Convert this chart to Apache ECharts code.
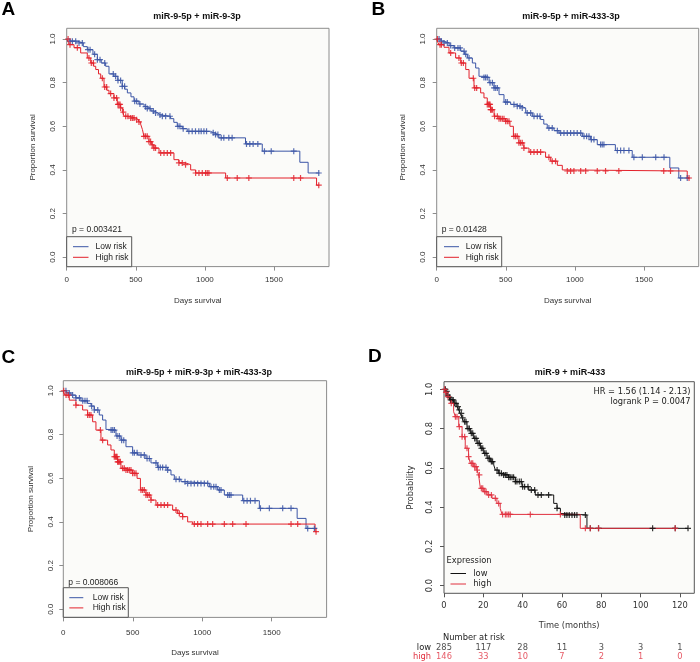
<!DOCTYPE html>
<html><head><meta charset="utf-8">
<script src="https://cdn.jsdelivr.net/npm/echarts@6/dist/echarts.min.js"></script>
<style>html,body{margin:0;padding:0;background:#fff}#c{width:700px;height:662px}</style>
</head><body><div id="c"></div>
<script>
// ---------------- DATA ----------------
const titles = ['miR-9-5p + miR-9-3p', 'miR-9-5p + miR-433-3p', 'miR-9-5p + miR-9-3p + miR-433-3p', 'miR-9 + miR-433'];
const panelLetters = ['A', 'B', 'C', 'D'];
const pValues = ['p = 0.003421', 'p = 0.01428', 'p = 0.008066'];
const riskGroups = ['Low risk', 'High risk'];
const exprGroups = ['low', 'high'];
const hrText = 'HR = 1.56 (1.14 - 2.13)';
const logrankText = 'logrank P = 0.0047';
const daysTicks = [0, 500, 1000, 1500];
const monthTicks = [0, 20, 40, 60, 80, 100, 120];
const probTicks = [0, 0.2, 0.4, 0.6, 0.8, 1.0];

// Panel A (days, survival)
const aLow = [[0,1],[24,0.99],[77,0.982],[120,0.965],[149,0.951],[190,0.93],[222,0.905],[250,0.89],[282,0.875],[306,0.84],[342,0.829],[370,0.81],[402,0.783],[420,0.77],[439,0.753],[465,0.735],[487,0.715],[523,0.702],[560,0.69],[583,0.681],[610,0.67],[631,0.661],[660,0.652],[680,0.646],[752,0.635],[775,0.618],[800,0.6],[836,0.589],[872,0.577],[1040,0.57],[1065,0.562],[1101,0.547],[1294,0.519],[1415,0.486],[1687,0.435],[1747,0.386],[1828,0.386]];
const aHigh = [[0,1],[12,0.985],[17,0.974],[53,0.96],[101,0.936],[149,0.913],[174,0.89],[195,0.875],[210,0.86],[230,0.84],[246,0.82],[270,0.78],[290,0.765],[306,0.75],[342,0.73],[366,0.7],[390,0.684],[405,0.665],[415,0.646],[451,0.638],[499,0.63],[520,0.62],[535,0.61],[548,0.585],[559,0.554],[595,0.53],[615,0.515],[631,0.5],[668,0.478],[776,0.447],[812,0.432],[860,0.424],[897,0.4],[933,0.386],[1150,0.363],[1808,0.33],[1828,0.33]];
const aLowCens = [24,41,65,89,113,154,169,202,222,241,275,337,354,371,390,402,419,492,506,530,571,583,603,627,643,675,692,716,747,805,819,843,884,908,932,956,973,993,1012,1060,1077,1094,1118,1137,1173,1197,1301,1325,1349,1383,1431,1480,1643,1824];
const aHighCens = [10,24,77,161,178,193,258,275,289,318,342,361,371,378,386,390,410,427,443,463,475,487,506,523,559,571,583,595,607,619,631,643,680,704,728,752,812,836,860,933,957,981,1005,1017,1029,1162,1234,1318,1643,1692,1824];

// Panel B
const bLow = [[0,1],[30,0.99],[53,0.982],[90,0.97],[125,0.959],[174,0.944],[200,0.93],[222,0.913],[258,0.89],[282,0.867],[306,0.829],[342,0.824],[379,0.8],[415,0.776],[451,0.745],[487,0.711],[535,0.7],[570,0.692],[608,0.684],[644,0.661],[692,0.646],[752,0.631],[775,0.61],[800,0.592],[849,0.58],[885,0.569],[1054,0.554],[1114,0.539],[1162,0.516],[1293,0.489],[1415,0.458],[1687,0.409],[1752,0.363],[1828,0.363]];
const bHigh = [[0,1],[8,0.985],[17,0.974],[53,0.962],[89,0.936],[137,0.913],[174,0.89],[210,0.86],[234,0.82],[270,0.776],[318,0.753],[342,0.73],[366,0.7],[390,0.676],[415,0.646],[451,0.635],[499,0.623],[530,0.6],[555,0.554],[595,0.524],[631,0.5],[668,0.482],[788,0.458],[825,0.44],[873,0.421],[909,0.4],[945,0.395],[1813,0.363],[1828,0.363]];
const bLowCens = [17,34,53,77,101,130,154,169,198,210,234,342,354,366,386,403,415,427,439,499,511,559,583,603,619,655,680,704,728,747,812,836,873,897,921,945,969,993,1017,1042,1066,1085,1102,1119,1138,1186,1198,1210,1307,1331,1355,1391,1427,1488,1585,1645,1765,1813];
const bHighCens = [5,24,34,101,161,178,193,265,275,289,366,374,381,386,390,395,403,419,439,451,463,475,487,499,511,523,559,571,583,595,607,619,631,680,704,728,752,812,836,860,945,969,993,1042,1078,1162,1222,1318,1643,1692,1826];

// Panel C
const cLow = [[0,1],[25,0.99],[55,0.98],[90,0.967],[127,0.954],[175,0.942],[200,0.93],[223,0.912],[259,0.889],[283,0.866],[307,0.823],[343,0.82],[379,0.793],[415,0.774],[451,0.744],[499,0.716],[535,0.706],[595,0.69],[631,0.67],[679,0.649],[751,0.637],[775,0.615],[799,0.595],[847,0.584],[883,0.576],[1051,0.561],[1111,0.546],[1159,0.523],[1291,0.497],[1411,0.462],[1683,0.416],[1747,0.37],[1826,0.37]];
const cHigh = [[0,1],[5,0.99],[12,0.98],[43,0.957],[91,0.934],[139,0.912],[175,0.889],[211,0.858],[235,0.82],[271,0.774],[319,0.752],[343,0.729],[367,0.698],[391,0.675],[415,0.645],[451,0.637],[499,0.622],[531,0.599],[555,0.546],[595,0.523],[631,0.5],[667,0.477],[787,0.454],[823,0.439],[859,0.424],[895,0.4],[931,0.39],[1812,0.355],[1826,0.355]];
const cLowCens = [19,43,67,91,116,140,156,171,204,223,248,344,356,368,387,403,420,435,500,512,531,559,583,603,619,667,684,698,715,739,751,811,835,876,895,919,943,967,991,1015,1039,1063,1083,1099,1123,1135,1183,1195,1207,1299,1323,1347,1380,1419,1483,1579,1639,1759,1807];
const cHighCens = [3,20,36,91,175,187,199,267,283,367,375,382,387,391,396,403,411,427,439,451,463,475,487,499,511,523,559,571,583,595,607,619,631,679,703,727,751,811,835,859,943,967,991,1039,1075,1159,1219,1315,1639,1687,1819];

// Panel D (months, probability)
const dLow = [[0,1],[0.8,0.99],[1.5,0.971],[2.4,0.96],[3.2,0.946],[4.9,0.929],[6.6,0.912],[7.5,0.895],[8.3,0.878],[9.2,0.855],[10,0.835],[11.7,0.8],[13.4,0.776],[15.1,0.75],[16.8,0.725],[18.5,0.7],[20.2,0.674],[21.9,0.649],[23.6,0.632],[25.3,0.615],[26.1,0.589],[27.8,0.572],[29.5,0.564],[32.9,0.552],[36.3,0.53],[39.7,0.504],[43.1,0.487],[46.4,0.462],[55.8,0.419],[57.5,0.394],[59.2,0.368],[60,0.36],[72.7,0.292],[124.1,0.292]];
const dHigh = [[0,1],[0.5,0.985],[1.5,0.963],[3.2,0.929],[4.9,0.886],[5.8,0.861],[7.5,0.81],[9.2,0.759],[10.8,0.7],[12.5,0.657],[13.4,0.623],[15.1,0.606],[16.8,0.589],[17.6,0.564],[18.5,0.496],[20.2,0.479],[21.9,0.462],[24.4,0.445],[26.9,0.419],[28.6,0.394],[29.5,0.363],[69.3,0.292],[117.6,0.292]];
const dLowCens = [0.7,1.4,2.0,2.7,3.4,4.1,4.7,5.4,6.1,7.1,7.8,8.8,9.5,10.5,11.2,12.2,12.9,13.9,14.6,15.6,16.3,17.3,18.0,19.0,19.7,20.7,21.4,22.4,23.1,24.1,24.7,27.0,28.1,29.2,30.3,31.2,32.0,32.9,33.7,34.6,35.4,36.3,37.1,38.3,39.3,40.0,41.0,42.7,44.4,46.1,47.8,49.5,53.2,57.5,61.4,62.5,63.7,65.1,66.4,67.6,71.9,74.4,78.6,106.1,117.6,124.1];
const dHighCens = [0.3,1.0,2.0,3.7,5.8,6.6,7.8,9.2,10.5,11.7,12.5,13.9,14.6,15.6,16.3,16.8,18.0,19.0,19.7,20.7,21.4,22.7,24.1,26.1,27.8,29.8,31.2,32.0,32.9,33.7,43.9,59.2,71.9,74.4,78.6,117.6];

// Number at risk (panel D)
const riskMonths = [0, 20, 40, 60, 80, 100, 120];
const riskLow = [285, 117, 28, 11, 3, 3, 1];
const riskHigh = [146, 33, 10, 7, 2, 1, 0];

// ---------------- STYLE / LAYOUT ----------------
const BLUE = '#3b55a6', RED = '#e3212b', BLACK = '#111', DRED = '#e0303f';
const PLOTBG = '#fbfbf9';
const FA = '"Liberation Sans", Arial, sans-serif';
const FD = '"DejaVu Sans", sans-serif';
const CROSS = 'path://M4,0H6V4H10V6H6V10H4V6H0V4H4Z';

const panels = [
  {grid:{left:66.7, top:28.3, width:262.3, height:238.3}, xmax:1898, ymin:-0.043, ymax:1.049, xticks:daysTicks, xname:'Days survival', yname:'Proportion survival', font:FA, fs:8, border:'#8c8c8c', ylm:10, yng:30, xlm:9, xng:30,
   curves:[aLow,aHigh], cens:[aLowCens,aHighCens], colors:[BLUE,RED]},
  {grid:{left:436.7, top:28.3, width:262, height:238.3}, xmax:1896, ymin:-0.043, ymax:1.049, xticks:daysTicks, xname:'Days survival', yname:'Proportion survival', font:FA, fs:8, border:'#8c8c8c', ylm:10, yng:30, xlm:9, xng:30,
   curves:[bLow,bHigh], cens:[bLowCens,bHighCens], colors:[BLUE,RED]},
  {grid:{left:63.3, top:380.7, width:263.3, height:236.7}, xmax:1895, ymin:-0.037, ymax:1.046, xticks:daysTicks, xname:'Days survival', yname:'Proportion survival', font:FA, fs:8, border:'#8c8c8c', ylm:9, yng:29, xlm:11, xng:31,
   curves:[cLow,cHigh], cens:[cLowCens,cHighCens], colors:[BLUE,RED]},
  {grid:{left:444, top:381.7, width:250.3, height:211.6}, xmax:127.3, ymin:-0.039, ymax:1.039, xticks:monthTicks, xname:'Time (months)', yname:'Probability', font:FD, fs:8.3, border:'#555', ylm:10, yng:29, xlm:9, xng:29,
   curves:[dLow,dHigh], cens:[dLowCens,dHighCens], colors:[BLACK,DRED]}
];

function stepAt(curve, t) {
  let s = curve[0][1];
  for (const p of curve) { if (p[0] <= t) s = p[1]; else break; }
  return s;
}

const grids = [], xAxes = [], yAxes = [], series = [];
panels.forEach((p, i) => {
  grids.push(Object.assign({show:true, backgroundColor:PLOTBG, borderColor:p.border, borderWidth:1}, p.grid));
  xAxes.push({type:'value', gridIndex:i, min:0, max:p.xmax,
    axisLine:{show:false, onZero:false}, splitLine:{show:false},
    axisTick:{show:true, length:4, customValues:p.xticks, lineStyle:{color:p.border}},
    axisLabel:{customValues:p.xticks, fontSize:p.fs, fontFamily:p.font, color:'#333', margin:p.xlm, formatter:v => String(v)},
    name:p.xname, nameLocation:'middle', nameGap:p.xng, nameTextStyle:{fontSize:p.fs, fontFamily:p.font, color:'#333'}});
  yAxes.push({type:'value', gridIndex:i, min:p.ymin, max:p.ymax,
    axisLine:{show:false, onZero:false}, splitLine:{show:false},
    axisTick:{show:true, length:4, customValues:probTicks, lineStyle:{color:p.border}},
    axisLabel:{customValues:probTicks, rotate:90, fontSize:p.fs, fontFamily:p.font, color:'#333', margin:p.ylm, formatter:v => v.toFixed(1)},
    name:p.yname, nameLocation:'middle', nameGap:p.yng, nameRotate:90, nameTextStyle:{fontSize:p.fs, fontFamily:p.font, color:'#333'}});
  p.curves.forEach((c, k) => {
    series.push({type:'line', xAxisIndex:i, yAxisIndex:i, data:c, step:'end', symbol:'none',
      lineStyle:{color:p.colors[k], width:1}, z:3, silent:true});
    series.push({type:'scatter', xAxisIndex:i, yAxisIndex:i,
      data:p.cens[k].map(t => [t, stepAt(c, t)]),
      symbol:CROSS, symbolSize:6, itemStyle:{color:p.colors[k], opacity:0.85}, z:4, silent:true});
  });
});

// Number-at-risk table grid (index 4)
grids.push({left:444, top:643, width:250.3, height:19, show:false});
xAxes.push({type:'value', gridIndex:4, min:0, max:127.3, show:false});
yAxes.push({type:'category', gridIndex:4, data:['high','low'],
  axisLine:{show:false}, axisTick:{show:false}, splitLine:{show:false},
  axisLabel:{interval:0, margin:13, fontSize:8.3, fontFamily:FD, color:(v) => v === 'high' ? DRED : '#222'}});
[[riskLow,'low','#222'],[riskHigh,'high',DRED]].forEach(([vals, cat, col]) => {
  series.push({type:'scatter', xAxisIndex:4, yAxisIndex:4, symbolSize:1, itemStyle:{color:'transparent'},
    data:riskMonths.map((m, j) => [m, cat, vals[j]]),
    label:{show:true, position:'inside', formatter:(q) => String(q.value[2]), color:col, fontSize:8.3, fontFamily:FD}, silent:true});
});

// ---------------- GRAPHIC TEXT / LEGENDS ----------------
function txt(x, y, text, font, fill, align) {
  return {type:'text', x:x, y:y, z:100, silent:true,
    style:{text:text, font:font, fill:fill || '#222', textAlign:align || 'left', align:align || 'left', textVerticalAlign:'middle', verticalAlign:'middle'}};
}
function ln(x1, y1, x2, y2, color) {
  return {type:'line', z:100, silent:true, shape:{x1:x1, y1:y1, x2:x2, y2:y2}, style:{stroke:color, lineWidth:1}};
}
const LETTERF = 'bold 19px "Liberation Sans Narrow", "Liberation Sans", sans-serif';
const TITLEF = 'bold 9px "Liberation Sans", Arial, sans-serif';
const LEGF = '8.5px "Liberation Sans", Arial, sans-serif';
const DF = '8.3px "DejaVu Sans", sans-serif';
const graphics = [
  txt(1.5, 10, panelLetters[0], LETTERF, '#000'),
  txt(371.5, 10, panelLetters[1], LETTERF, '#000'),
  txt(1.5, 357.5, panelLetters[2], LETTERF, '#000'),
  txt(368, 357, panelLetters[3], LETTERF, '#000'),
  txt(197, 17, titles[0], TITLEF, '#111', 'center'),
  txt(571, 17, titles[1], TITLEF, '#111', 'center'),
  txt(199, 372.5, titles[2], TITLEF, '#111', 'center'),
  txt(570, 373, titles[3], TITLEF, '#111', 'center'),
];
// Legends A-C
const legendBoxes = [
  {x:66.7, y:236.7, w:65, h:30, px:72, py:230, lx1:73, lx2:88.5, tx:95.5, r1:246.7, r2:257.3},
  {x:436.7, y:236.7, w:65, h:30, px:441.7, py:230, lx1:444, lx2:459, tx:465.7, r1:246.7, r2:257.3},
  {x:63.3, y:587.7, w:65, h:29.6, px:68.3, py:582.3, lx1:69.3, lx2:83.3, tx:92.7, r1:597.7, r2:607.9}
];
legendBoxes.forEach((b, i) => {
  graphics.push({type:'rect', z:99, silent:true, shape:{x:b.x, y:b.y, width:b.w, height:b.h}, style:{fill:PLOTBG, stroke:'#555', lineWidth:1}});
  graphics.push(txt(b.px, b.py, pValues[i], LEGF, '#222'));
  graphics.push(ln(b.lx1, b.r1, b.lx2, b.r1, BLUE));
  graphics.push(ln(b.lx1, b.r2, b.lx2, b.r2, RED));
  graphics.push(txt(b.tx, b.r1, riskGroups[0], LEGF, '#222'));
  graphics.push(txt(b.tx, b.r2, riskGroups[1], LEGF, '#222'));
});
// Panel D annotations
graphics.push(txt(690.5, 391.7, hrText, DF, '#222', 'right'));
graphics.push(txt(690.5, 401.7, logrankText, DF, '#222', 'right'));
graphics.push(txt(446.5, 561, 'Expression', DF, '#222'));
graphics.push(ln(450.5, 573.5, 466, 573.5, BLACK));
graphics.push(ln(450.5, 584, 466, 584, DRED));
graphics.push(txt(473.3, 573.5, exprGroups[0], DF, '#222'));
graphics.push(txt(473.3, 584, exprGroups[1], DF, '#222'));
graphics.push(txt(474, 638.3, 'Number at risk', DF, '#222', 'center'));

const chart = echarts.init(document.getElementById('c'), null, {renderer:'canvas'});
chart.setOption({
  animation:false,
  backgroundColor:'#fff',
  grid:grids, xAxis:xAxes, yAxis:yAxes, series:series,
  graphic:{elements:graphics}
});
</script></body></html>
